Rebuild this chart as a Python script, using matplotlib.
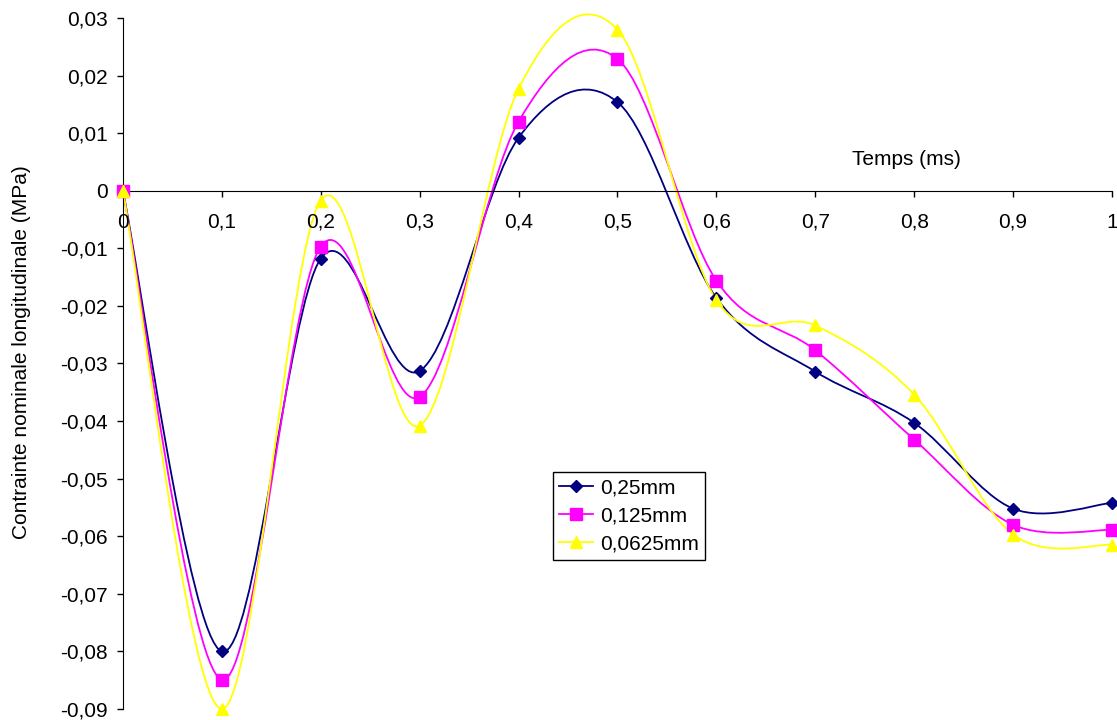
import numpy as np
import matplotlib.pyplot as plt
from matplotlib.path import Path
from matplotlib.patches import PathPatch
from matplotlib.ticker import FuncFormatter
from matplotlib.lines import Line2D

plt.rcParams['font.family'] = ['Liberation Sans', 'DejaVu Sans']

# data
temps = [0, 0.1, 0.2, 0.3, 0.4, 0.5, 0.6, 0.7, 0.8, 0.9, 1.0]
s_025 = [0, -0.0800, -0.0118, -0.0313, 0.0092, 0.0154, -0.0186, -0.0314, -0.0403, -0.0552, -0.0542]
s_0125 = [0, -0.0849, -0.0097, -0.0358, 0.0120, 0.0229, -0.0156, -0.0277, -0.0432, -0.0580, -0.0589]
s_00625 = [0, -0.0900, -0.0017, -0.0408, 0.0177, 0.0280, -0.0190, -0.0234, -0.0354, -0.0597, -0.0615]
labels = ['0,25mm', '0,125mm', '0,0625mm']
colors = ['#000080', '#FF00FF', '#FFFF00']
markers = ['D', 's', '^']
msizes = [6, 8, 8]

fs = 15


def smooth_path(x, y):
    # excel style smoothed line: cubic bezier, catmull-rom tangents
    p = np.column_stack([x, y])
    ext = np.vstack([p[0], p, p[-1]])
    verts = [p[0]]
    codes = [Path.MOVETO]
    for i in range(len(p) - 1):
        c1 = ext[i + 1] + (ext[i + 2] - ext[i]) / 6.0
        c2 = ext[i + 2] - (ext[i + 3] - ext[i + 1]) / 6.0
        verts += [c1, c2, ext[i + 2]]
        codes += [Path.CURVE4] * 3
    return Path(verts, codes)


fig = plt.figure(figsize=(11.17, 7.2), dpi=100)
ax = fig.add_axes([0.110, 0.0153, 0.8855, 0.9597])

series = [s_025, s_0125, s_00625]
handles = []
for vals, c, m, ms, lab in zip(series, colors, markers, msizes, labels):
    patch = PathPatch(smooth_path(temps, vals), facecolor='none', edgecolor=c, lw=1.3, clip_on=False)
    ax.add_patch(patch)
    ax.plot(temps, vals, linestyle='none', marker=m, color=c, markersize=ms, clip_on=False, zorder=3)
    handles.append(Line2D([], [], color=c, lw=1.3, marker=m, markersize=ms, label=lab))

ax.set_xlim(0, 1)
ax.set_ylim(-0.09, 0.03)
ax.set_xticks(np.arange(0, 1.01, 0.1))
ax.set_yticks(np.arange(-0.09, 0.031, 0.01))


def fmt(v, pos):
    if abs(v) < 1e-9:
        return '0'
    s = '%g' % round(v, 3)
    return s.replace('.', ',')


ax.xaxis.set_major_formatter(FuncFormatter(fmt))
ax.yaxis.set_major_formatter(FuncFormatter(fmt))

ax.spines['top'].set_visible(False)
ax.spines['right'].set_visible(False)
ax.spines['bottom'].set_position(('data', 0))
ax.spines['left'].set_position(('data', 0))
ax.tick_params(axis='x', direction='out', length=4, width=1, pad=12, labelsize=fs)
ax.tick_params(axis='y', direction='out', length=4, width=1, pad=7, labelsize=fs)

ax.text(0.792, 0.0054, 'Temps (ms)', fontsize=fs, ha='center', va='center')
fig.text(0.019, 0.511, 'Contrainte nominale longitudinale (MPa)', rotation=90,
         fontsize=fs, ha='center', va='center')

leg = ax.legend(handles=handles, loc='upper left', bbox_to_anchor=(553 / 1117, 1 - 472 / 720),
                bbox_transform=fig.transFigure, fontsize=fs, frameon=True, fancybox=False,
                edgecolor='black', framealpha=1, handlelength=1.6, handletextpad=0.35,
                borderpad=0.3, labelspacing=0.44, borderaxespad=0)
leg.get_frame().set_linewidth(1)

fig.savefig('out.png', dpi=100)
